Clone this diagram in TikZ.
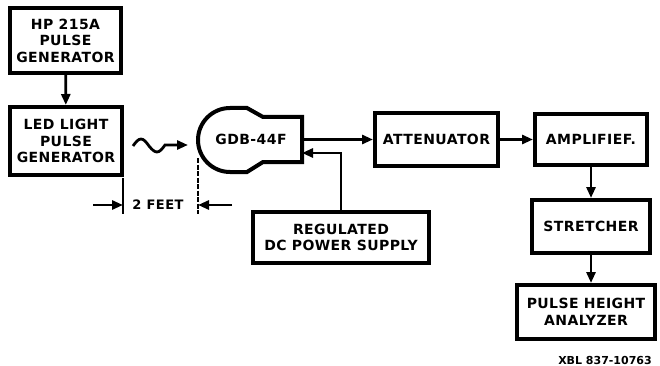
\documentclass[tikz,border=0pt]{standalone}
\usepackage{fontspec}
\setmainfont{DejaVu Sans}
\usetikzlibrary{arrows.meta}

\tikzset{
  caja/.style={draw, line width=4pt, align=center, inner sep=0pt,
    font=\bfseries\fontsize{14}{16.5}\selectfont\addfontfeature{LetterSpace=3}},
  flecha/.style={line width=2.8pt, -{Triangle[length=11pt,width=9pt]}},
  cota/.style={line width=1.8pt},
}

\begin{document}
\begin{tikzpicture}[x=1pt,y=-1pt]
\useasboundingbox (0,0) rectangle (660,366);

% Generadores
\node[caja, minimum width=111pt, minimum height=65pt] (hp) at (65.5,40.5) {HP 215A\\PULSE\\GENERATOR};
\node[caja, minimum width=112pt, minimum height=68pt] (led) at (66,141) {LED LIGHT\\PULSE\\GENERATOR};
\draw[flecha] (hp) -- (led);

% Fotomultiplicador GDB-44F
\draw[line width=4pt] (302,117) -- (263,117) -- (247,108) -- (230,108)
  arc[start angle=90, end angle=270, radius=32pt] -- (247,172) -- (263,162) -- (302,162) -- cycle;
\node[font=\bfseries\fontsize{14}{16}\selectfont\addfontfeature{LetterSpace=3}] (gdb) at (251,139) {GDB-44F};
\coordinate (gdbsal) at (302,139.5);
\coordinate (gdbent) at (302,153);

% Luz
\coordinate (onda) at (133,146);
\coordinate (luz) at (188,145);
\draw[flecha] (onda) sin (141,139) cos (149,146) sin (157,152) cos (165,145) -- (luz);

% Cadena de senal
\node[caja, minimum width=123pt, minimum height=52pt] (att) at (436.5,139.5) {ATTENUATOR};
\node[caja, minimum width=112pt, minimum height=50pt] (amp) at (591,139.5) {AMPLIFIEF.};
\node[caja, minimum width=118pt, minimum height=53pt] (str) at (591,226.5) {STRETCHER};
\node[caja, minimum width=138pt, minimum height=54pt] (pha) at (586,312) {PULSE HEIGHT\\ANALYZER};
\draw[flecha] (gdbsal) -- (att.west |- gdbsal);
\draw[flecha] (att) -- (amp);
\draw[flecha] (amp) -- (str);
\draw[flecha] (str.south) -- (str.south |- pha.north);

% Fuente
\node[caja, minimum width=176pt, minimum height=51pt] (reg) at (341,237.5) {REGULATED\\DC POWER SUPPLY};
\draw[flecha] (reg.north) |- (gdbent);

% Distancia
\coordinate (c1a) at (123,178);
\coordinate (c1b) at (123,214);
\coordinate (c2a) at (198,158);
\coordinate (c2b) at (198,214);
\draw[cota] (c1a) -- (c1b);
\draw[cota, dash pattern=on 5pt off 1.5pt] (c2a) -- (c2b);
\coordinate (p1) at (93,205);
\coordinate (p2) at (232,205);
\draw[flecha] (p1) -- (p1 -| c1a);
\draw[flecha] (p2) -- (p2 -| c2a);
\node[font=\bfseries\fontsize{13}{14}\selectfont\addfontfeature{LetterSpace=4}] (pies) at (158,205) {2 FEET};

% Referencia
\node[font=\bfseries\fontsize{11}{12}\selectfont] (xbl) at (605,360) {XBL 837-10763};
\end{tikzpicture}
\end{document}
